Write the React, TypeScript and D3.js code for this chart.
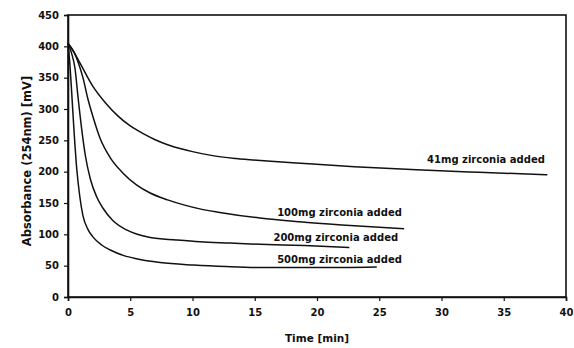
import { useEffect, useRef } from 'react';
import * as d3 from 'd3';

// readings (time in min, absorbance in mV)
const t41 = [0, 0.5, 1, 2, 3, 4, 5, 6, 7, 8, 9, 10, 11.5, 13.5, 16, 19, 23, 28, 33, 38.5];
const v41 = [405, 390, 372, 336, 310, 289, 273, 261, 251, 243, 237, 232, 226, 221, 217, 213, 208, 203, 199, 195];

const t100 = [0, 0.5, 0.83, 1.2, 1.6, 2, 2.6, 3.4, 4.4, 5.5, 6.6, 8, 9.3, 10.5, 12.2, 15.4, 18.6, 22, 27];
const v100 = [405, 390, 374, 350, 316, 288, 252, 222, 198, 179, 166, 155, 147, 141, 135, 126, 120, 115, 109];

const t200 = [0, 0.3, 0.56, 0.8, 1.1, 1.4, 1.8, 2.3, 2.8, 3.6, 4.7, 5.5, 6.6, 8.7, 10.6, 13, 15.4, 19, 22.6];
const v200 = [405, 388, 365, 320, 268, 225, 188, 160, 142, 122, 107, 100.5, 95, 91, 88, 86, 84, 82, 79];

const t500 = [0, 0.15, 0.3, 0.5, 0.7, 0.95, 1.2, 1.6, 2, 2.7, 3.4, 4.5, 5.5, 7.4, 10.1, 12.7, 15.4, 20, 24.8];
const v500 = [405, 372, 325, 260, 205, 160, 130, 108, 96, 83, 75, 66, 61, 55, 51, 48.5, 47, 47, 48];

const seriesNames = ['41mg zirconia added', '100mg zirconia added', '200mg zirconia added', '500mg zirconia added'];
// label anchor in data units [time, value]
const labelAt = [[38.3, 214], [16.8, 129], [16.5, 90], [16.8, 54]];

const xTicks = [0, 5, 10, 15, 20, 25, 30, 35, 40];
const yTicks = [0, 50, 100, 150, 200, 250, 300, 350, 400, 450];

export default function App() {
  const svgRef = useRef<SVGSVGElement>(null);
  const width = 574;
  const height = 348;

  useEffect(() => {
    if (!svgRef.current) return;
    const svg = d3.select(svgRef.current);
    svg.selectAll('*').remove();

    const margin = { top: 15, right: 8, bottom: 51, left: 68 };
    const innerWidth = width - margin.left - margin.right;
    const innerHeight = height - margin.top - margin.bottom;
    const font = '"DejaVu Sans", Arial, sans-serif';

    const g = svg.append('g').attr('transform', `translate(${margin.left},${margin.top})`);

    const x = d3.scaleLinear().domain([0, 40]).range([0, innerWidth]);
    const y = d3.scaleLinear().domain([0, 450]).range([innerHeight, 0]);

    // frame
    g.append('rect')
      .attr('width', innerWidth)
      .attr('height', innerHeight)
      .attr('fill', 'none')
      .attr('stroke', '#111')
      .attr('stroke-width', 1.6);

    const xAxis = g.append('g')
      .attr('transform', `translate(0,${innerHeight})`)
      .call(d3.axisBottom(x).tickValues(xTicks).tickSize(4).tickPadding(8).tickFormat(d => `${d}`));
    const yAxis = g.append('g')
      .call(d3.axisLeft(y).tickValues(yTicks).tickSize(4).tickPadding(5).tickFormat(d => `${d}`));

    [xAxis, yAxis].forEach(ax => {
      ax.select('.domain').attr('stroke', '#111').attr('stroke-width', 1.6);
      ax.selectAll('.tick line').attr('stroke', '#111').attr('stroke-width', 1.2);
      ax.selectAll('.tick text')
        .style('font-family', font)
        .style('font-size', '10px')
        .style('font-weight', 'bold')
        .style('fill', '#111');
    });

    const line = d3.line<[number, number]>()
      .x(d => x(d[0]))
      .y(d => y(d[1]))
      .curve(d3.curveMonotoneX);

    const series = [[t41, v41], [t100, v100], [t200, v200], [t500, v500]];
    series.forEach(([ts, vs]) => {
      const pts = ts.map((t, i) => [t, vs[i]] as [number, number]);
      g.append('path')
        .attr('d', line(pts)!)
        .attr('fill', 'none')
        .attr('stroke', '#111')
        .attr('stroke-width', 1.5);
    });

    seriesNames.forEach((name, i) => {
      const [lt, lv] = labelAt[i];
      g.append('text')
        .attr('x', x(lt))
        .attr('y', y(lv))
        .attr('text-anchor', i === 0 ? 'end' : 'start')
        .text(name)
        .style('font-family', font)
        .style('font-size', '10px')
        .style('font-weight', 'bold')
        .style('fill', '#111');
    });

    svg.append('text')
      .attr('x', margin.left + innerWidth / 2)
      .attr('y', height - 6)
      .attr('text-anchor', 'middle')
      .text('Time [min]')
      .style('font-family', font)
      .style('font-size', '10.5px')
      .style('font-weight', 'bold')
      .style('fill', '#111');

    svg.append('text')
      .attr('transform', `translate(31,${margin.top + innerHeight / 2 + 5}) rotate(-90)`)
      .attr('text-anchor', 'middle')
      .text('Absorbance (254nm) [mV]')
      .style('font-family', font)
      .style('font-size', '11.5px')
      .style('font-weight', 'bold')
      .style('fill', '#111');
  }, []);

  return (
    <div style={{ position: 'fixed', left: 0, top: 0, background: '#fff' }}>
      <svg ref={svgRef} width={width} height={height} style={{ display: 'block' }} />
    </div>
  );
}
